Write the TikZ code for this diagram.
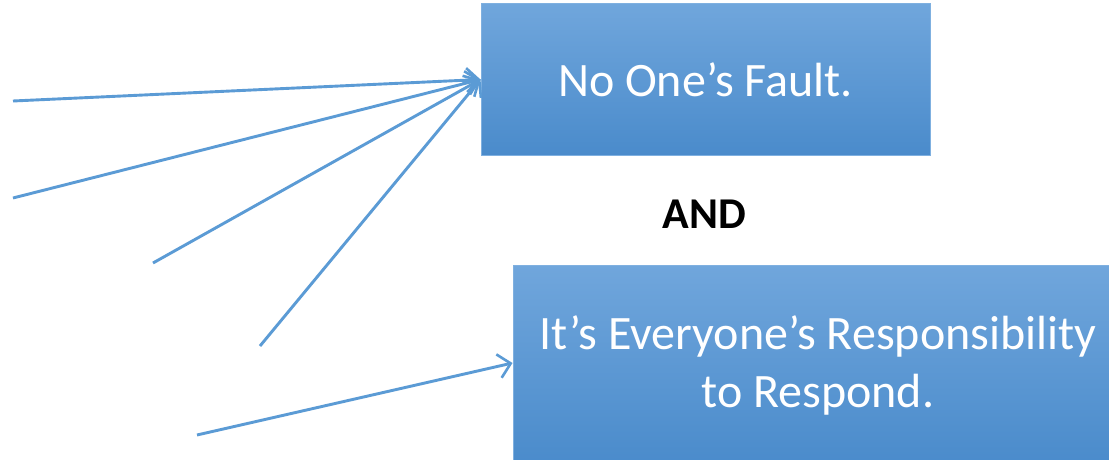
\documentclass[tikz,border=0pt]{standalone}
\usepackage{fontspec}
\setmainfont{Carlito}
\usetikzlibrary{arrows.meta}
\definecolor{linecol}{HTML}{5B9BD5}
\definecolor{boxtop}{HTML}{70A6DC}
\definecolor{boxbot}{HTML}{4A8BCB}
\definecolor{boxedge}{HTML}{7FB0E0}
\tikzset{
  bluebox/.style={rectangle, draw=boxedge, line width=1pt, top color=boxtop, bottom color=boxbot,
    text=white, font=\fontsize{48}{58}\selectfont, align=center, inner sep=0pt},
  conn/.style={draw=linecol, line width=2.9pt, -{Straight Barb[length=12pt,width=24pt,line width=2.6pt]}}
}
\begin{document}
\begin{tikzpicture}[x=1pt,y=-1pt]
\useasboundingbox (0,0) rectangle (1109,460);
\clip (0,0) rectangle (1109,460);
\fill[white] (0,0) rectangle (1109,460);
\node[bluebox, minimum width=449pt, minimum height=151pt] (box1) at (705.5,79.5) {No One’s Fault.};
\node[bluebox, minimum width=610pt, minimum height=200pt] (box2) at (818,365) {It’s Everyone’s Responsibility\\[0pt]to Respond.};
\node[font=\fontsize{44}{52}\selectfont\bfseries, text=black] (and) at (704.5,214) {AND};
\coordinate (t1) at (13,101);
\coordinate (t2) at (13,198);
\coordinate (t3) at (153,263);
\coordinate (t4) at (260,346);
\coordinate (t5) at (197,435);
\draw[conn] (t1) -- (box1.west);
\draw[conn] (t2) -- (box1.west);
\draw[conn] (t3) -- (box1.west);
\draw[conn] (t4) -- (box1.west);
\draw[conn] (t5) -- ([yshift=2pt]box2.west);
\end{tikzpicture}
\end{document}
